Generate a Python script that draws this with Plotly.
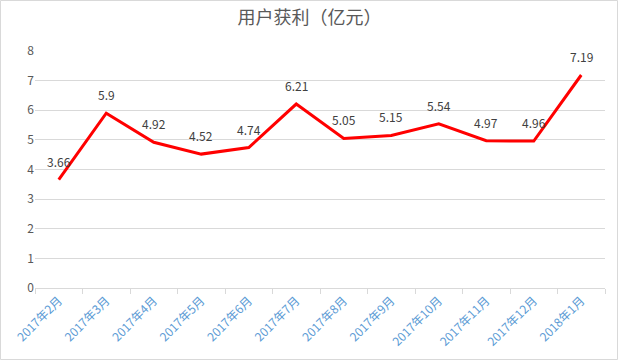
import plotly.graph_objects as go

categories = ["2017年2月", "2017年3月", "2017年4月", "2017年5月", "2017年6月", "2017年7月",
              "2017年8月", "2017年9月", "2017年10月", "2017年11月", "2017年12月", "2018年1月"]
values = [3.66, 5.9, 4.92, 4.52, 4.74, 6.21, 5.05, 5.15, 5.54, 4.97, 4.96, 7.19]
labels = ["3.66", "5.9", "4.92", "4.52", "4.74", "6.21", "5.05", "5.15", "5.54", "4.97", "4.96", "7.19"]

W, H = 619, 361
ml, mr, mt, mb = 35, 14, 51, 73
pw, ph = W - ml - mr, H - mt - mb

def px_x(p):
    return (p - ml) / pw

def px_y(p):
    return (H - mb - p) / ph

fig = go.Figure()
fig.add_trace(go.Scatter(
    x=categories, y=values, mode="lines",
    line=dict(color="#FF0000", width=3), hoverinfo="skip"))

annotations = [dict(x=c, y=v, text=t, showarrow=False, xanchor="center", yanchor="bottom",
                    yshift=8, font=dict(family="Noto Sans CJK SC, sans-serif", size=12, color="#404040"))
               for c, v, t in zip(categories, values, labels)]

fig.update_layout(
    width=W, height=H, margin=dict(l=ml, r=mr, t=mt, b=mb, autoexpand=False),
    paper_bgcolor="white", plot_bgcolor="white", showlegend=False,
    annotations=annotations,
    title=dict(text="用户获利（亿元）", x=0.5, xanchor="center", y=1 - 18 / H, yanchor="middle",
               font=dict(family="Noto Sans CJK SC, sans-serif", size=18, color="#595959")),
    xaxis=dict(type="category", tickson="boundaries", ticks="outside", ticklen=5,
               tickcolor="#D9D9D9", showline=True, linecolor="#D9D9D9", linewidth=1,
               showgrid=False, tickangle=-45, automargin=False,
               tickfont=dict(family="Noto Sans CJK SC, sans-serif", size=12, color="#5B9BD5"),
               range=[-0.5, 11.5]),
    yaxis=dict(range=[0, 8], dtick=1, showgrid=True, gridcolor="#D9D9D9", gridwidth=1,
               zeroline=False, showline=False, ticks="", automargin=False,
               tickfont=dict(family="Noto Sans CJK SC, sans-serif", size=12, color="#595959")),
    shapes=[dict(type="rect", xref="paper", yref="paper",
                 x0=px_x(0.5), x1=px_x(617.5), y0=px_y(359.5), y1=px_y(0.5),
                 line=dict(color="#D9D9D9", width=1), fillcolor="rgba(0,0,0,0)", layer="below")],
)

fig.write_html("out.html", config={"displayModeBar": False},
               post_script="document.body.style.margin='0';")
